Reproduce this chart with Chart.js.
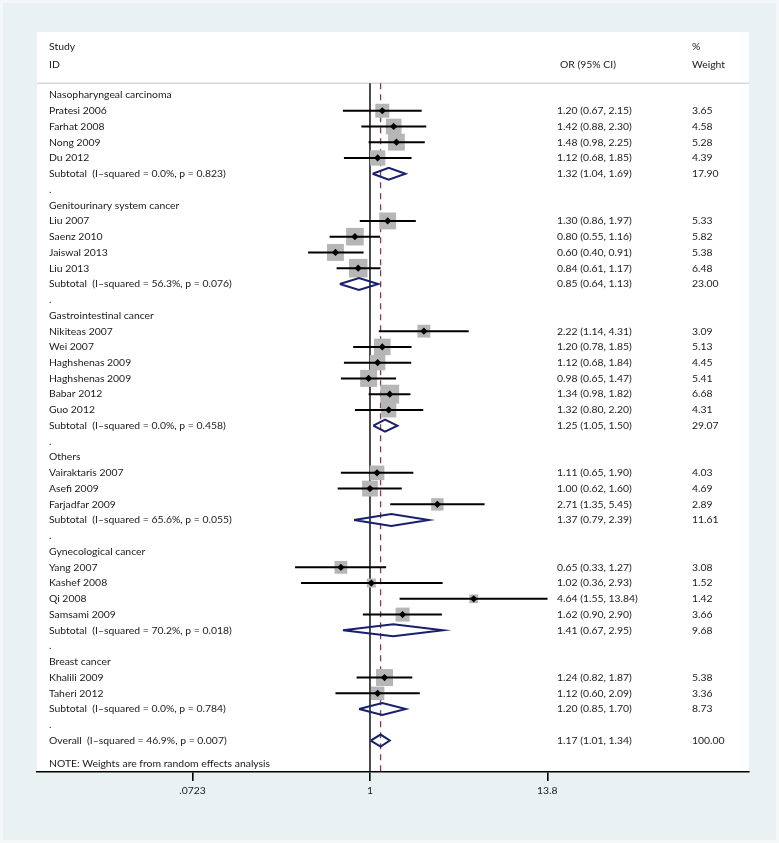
<!DOCTYPE html>
<html>
<head>
<meta charset="utf-8">
<script src="https://cdn.jsdelivr.net/npm/chart.js@4.4.1/dist/chart.umd.min.js"></script>
<style>
  html, body { margin: 0; padding: 0; background: #e9f1f3; }
  #wrap { width: 779px; height: 843px; }
</style>
</head>
<body>
<div id="wrap"><canvas id="forest" width="779" height="843"></canvas></div>
<script>
// ---- data ----
const groups = [
  "Nasopharyngeal carcinoma",
  "Genitourinary system cancer",
  "Gastrointestinal cancer",
  "Others",
  "Gynecological cancer",
  "Breast cancer"
];

const studyGroup = [0, 0, 0, 0, 1, 1, 1, 1, 2, 2, 2, 2, 2, 2, 3, 3, 3, 4, 4, 4, 4, 5, 5];
const studyNames = [
  "Pratesi 2006", "Farhat 2008", "Nong 2009", "Du 2012",
  "Liu 2007", "Saenz 2010", "Jaiswal 2013", "Liu 2013",
  "Nikiteas 2007", "Wei 2007", "Haghshenas 2009", "Haghshenas 2009", "Babar 2012", "Guo 2012",
  "Vairaktaris 2007", "Asefi 2009", "Farjadfar 2009",
  "Yang 2007", "Kashef 2008", "Qi 2008", "Samsami 2009",
  "Khalili 2009", "Taheri 2012"
];
const studyOR = [1.20, 1.42, 1.48, 1.12, 1.30, 0.80, 0.60, 0.84, 2.22, 1.20, 1.12, 0.98, 1.34, 1.32, 1.11, 1.00, 2.71, 0.65, 1.02, 4.64, 1.62, 1.24, 1.12];
const studyLow = [0.67, 0.88, 0.98, 0.68, 0.86, 0.55, 0.40, 0.61, 1.14, 0.78, 0.68, 0.65, 0.98, 0.80, 0.65, 0.62, 1.35, 0.33, 0.36, 1.55, 0.90, 0.82, 0.60];
const studyHigh = [2.15, 2.30, 2.25, 1.85, 1.97, 1.16, 0.91, 1.17, 4.31, 1.85, 1.84, 1.47, 1.82, 2.20, 1.90, 1.60, 5.45, 1.27, 2.93, 13.84, 2.90, 1.87, 2.09];
const studyWeight = [3.65, 4.58, 5.28, 4.39, 5.33, 5.82, 5.38, 6.48, 3.09, 5.13, 4.45, 5.41, 6.68, 4.31, 4.03, 4.69, 2.89, 3.08, 1.52, 1.42, 3.66, 5.38, 3.36];

const subI2 = ["0.0%", "56.3%", "0.0%", "65.6%", "70.2%", "0.0%"];
const subP = ["0.823", "0.076", "0.458", "0.055", "0.018", "0.784"];
const subOR = [1.32, 0.85, 1.25, 1.37, 1.41, 1.20];
const subLow = [1.04, 0.64, 1.05, 0.79, 0.67, 0.85];
const subHigh = [1.69, 1.13, 1.50, 2.39, 2.95, 1.70];
const subWeight = [17.90, 23.00, 29.07, 11.61, 9.68, 8.73];

const overallI2 = "46.9%";
const overallP = "0.007";
const overallOR = 1.17;
const overallLow = 1.01;
const overallHigh = 1.34;
const overallWeight = 100.00;

const xTickValues = [0.0723, 1, 13.8];
const xTickLabels = [".0723", "1", "13.8"];

// ---- build rows ----
const textRows = [];
const studyRow = [];
const subRow = [];
let row = 1;
groups.forEach((g, gi) => {
  textRows.push({ row: row++, label: g });
  studyNames.forEach((name, i) => {
    if (studyGroup[i] !== gi) return;
    studyRow[i] = row;
    textRows.push({ row: row++, label: name, or: studyOR[i], lo: studyLow[i], hi: studyHigh[i], w: studyWeight[i] });
  });
  subRow[gi] = row;
  textRows.push({ row: row++, label: "Subtotal  (I\u2013squared = " + subI2[gi] + ", p = " + subP[gi] + ")", or: subOR[gi], lo: subLow[gi], hi: subHigh[gi], w: subWeight[gi] });
  textRows.push({ row: row++, label: "." });
});
const overallRow = row;
textRows.push({ row: overallRow, label: "Overall  (I\u2013squared = " + overallI2 + ", p = " + overallP + ")", or: overallOR, lo: overallLow, hi: overallHigh, w: overallWeight });
const noteRow = overallRow + 1.5;

const FONT = "10.4px Lato";
const TEXT = "#1a1a1a";
const NAVY = "#18206e";
const BOXK = 7.3;

function fmt(v) { return v.toFixed(2); }

// ---- datasets ----
const datasets = [];

// reference lines: null effect and overall estimate
datasets.push({
  data: [{ x: 1, y: 0.25 }, { x: 1, y: 44 }],
  showLine: true, borderColor: "#000", borderWidth: 1.4, pointRadius: 0, order: 6
});
datasets.push({
  data: [{ x: overallOR, y: 0.25 }, { x: overallOR, y: 44 }],
  showLine: true, borderColor: "#8a3a4c", borderWidth: 1.3, borderDash: [6, 5], pointRadius: 0, order: 6
});

// weight boxes
datasets.push({
  data: studyOR.map((v, i) => ({ x: v, y: studyRow[i] })),
  pointStyle: "rect",
  pointRadius: studyWeight.map(w => BOXK * Math.sqrt(w) / Math.SQRT2),
  backgroundColor: "#b6b6b6", borderWidth: 0, order: 5
});

// confidence intervals
studyOR.forEach((v, i) => {
  datasets.push({
    data: [{ x: studyLow[i], y: studyRow[i] }, { x: studyHigh[i], y: studyRow[i] }],
    showLine: true, borderColor: "#000", borderWidth: 2, pointRadius: 0, order: 3
  });
});

// pooled diamonds
function diamond(est, lo, hi, r) {
  return [{ x: lo, y: r }, { x: est, y: r - 0.38 }, { x: hi, y: r }, { x: est, y: r + 0.38 }, { x: lo, y: r }];
}
subOR.forEach((v, gi) => {
  datasets.push({
    data: diamond(v, subLow[gi], subHigh[gi], subRow[gi]),
    showLine: true, borderColor: NAVY, borderWidth: 2, pointRadius: 0, tension: 0, order: 2
  });
});
datasets.push({
  data: diamond(overallOR, overallLow, overallHigh, overallRow),
  showLine: true, borderColor: NAVY, borderWidth: 2, pointRadius: 0, tension: 0, order: 2
});

// point estimates
datasets.push({
  data: studyOR.map((v, i) => ({ x: v, y: studyRow[i] })),
  pointStyle: "rectRot", pointRadius: 3.6, backgroundColor: "#000", borderWidth: 0, order: 1
});

// ---- panel + text ----
const panelPlugin = {
  id: "panel",
  beforeDraw(chart) {
    const { ctx, chartArea: a, width, height } = chart;
    ctx.save();
    ctx.fillStyle = "#e9f1f3";
    ctx.fillRect(0, 0, width, height);
    ctx.strokeStyle = "#f5f8f9";
    ctx.lineWidth = 3;
    ctx.strokeRect(1.5, 1.5, width - 3, height - 3);
    ctx.fillStyle = "#ffffff";
    ctx.fillRect(a.left, a.top, a.right - a.left, a.bottom - a.top);
    const ys = chart.scales.y.getPixelForValue(0.25);
    ctx.strokeStyle = "#c4c4c4";
    ctx.lineWidth = 1;
    ctx.beginPath();
    ctx.moveTo(a.left, ys);
    ctx.lineTo(a.right, ys);
    ctx.stroke();
    ctx.restore();
  },
  afterDraw(chart) {
    const { ctx } = chart;
    const y = chart.scales.y;
    const labelX = 49, orX = 557, wX = 692;
    ctx.save();
    ctx.font = FONT;
    ctx.fillStyle = TEXT;
    ctx.textBaseline = "middle";
    ctx.textAlign = "left";
    ctx.fillText("Study", labelX, y.getPixelForValue(-2.05));
    ctx.fillText("ID", labelX, y.getPixelForValue(-0.9));
    ctx.fillText("OR (95% CI)", orX + 3, y.getPixelForValue(-0.9));
    ctx.fillText("%", wX, y.getPixelForValue(-2.05));
    ctx.fillText("Weight", wX, y.getPixelForValue(-0.9));
    textRows.forEach(t => {
      const py = y.getPixelForValue(t.row);
      ctx.fillText(t.label, labelX, py);
      if (t.or !== undefined) {
        ctx.fillText(fmt(t.or) + " (" + fmt(t.lo) + ", " + fmt(t.hi) + ")", orX, py);
        ctx.fillText(fmt(t.w), wX, py);
      }
    });
    ctx.fillText("NOTE: Weights are from random effects analysis", labelX, y.getPixelForValue(noteRow));
    ctx.restore();
  }
};

const xMin = 0.00724, xMax = 273;

new Chart(document.getElementById("forest").getContext("2d"), {
  type: "scatter",
  data: { datasets },
  options: {
    responsive: false,
    animation: false,
    events: [],
    layout: { padding: { left: 37, right: 30, top: 32, bottom: 43.5 } },
    plugins: { legend: { display: false }, tooltip: { enabled: false } },
    scales: {
      x: {
        type: "logarithmic",
        bounds: "data",
        min: xMin,
        max: xMax,
        afterBuildTicks(s) {
          s.ticks = xTickValues.map(v => ({ value: v }));
          s.min = xMin;
          s.max = xMax;
        },
        border: { color: "#000", width: 1.6 },
        grid: { drawOnChartArea: false, drawTicks: true, tickLength: 9, color: "#000", lineWidth: 1.6 },
        ticks: {
          autoSkip: false, maxRotation: 0, padding: 3,
          color: TEXT, font: { family: "Lato", size: 10.4 },
          callback: (v, i) => xTickLabels[i]
        }
      },
      y: { type: "linear", min: -3, max: 44, reverse: true, display: false }
    }
  },
  plugins: [panelPlugin]
});
</script>
</body>
</html>
